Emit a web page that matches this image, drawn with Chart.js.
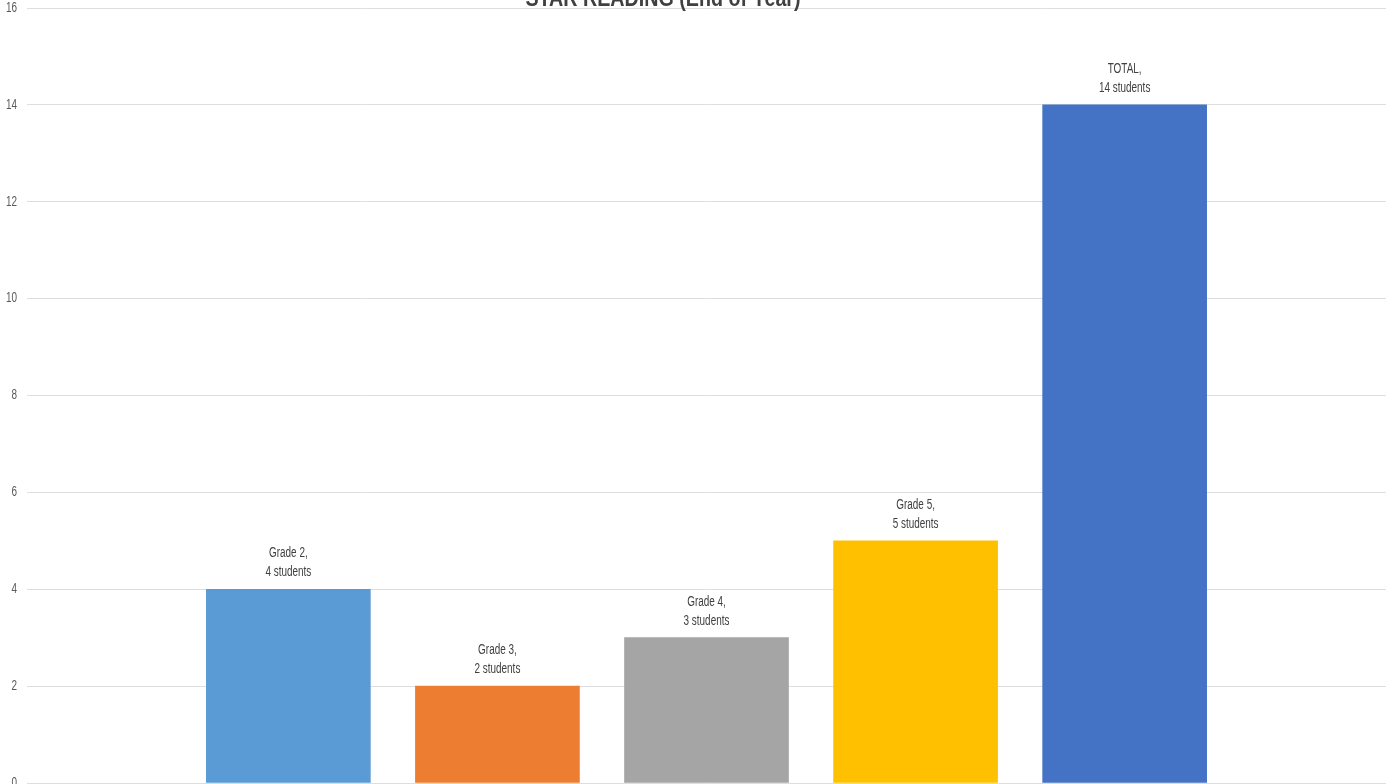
<!DOCTYPE html>
<html>
<head>
<meta charset="utf-8">
<script src="https://cdn.jsdelivr.net/npm/chart.js@4"></script>
<style>
  html, body { margin: 0; padding: 0; background: #fff; overflow: hidden; }
  #wrap { width: 1395px; height: 784px; position: relative; }
</style>
</head>
<body>
<div id="wrap"><canvas id="starChart"></canvas></div>
<script>
// chart values
const chartTitle = "STAR READING (End of Year)";
const grades = ["Grade 2", "Grade 3", "Grade 4", "Grade 5", "TOTAL"];
const students = [4, 2, 3, 5, 14];
const barColors = ["#5B9BD5", "#ED7D31", "#A5A5A5", "#FFC000", "#4472C4"];
const yTicks = [0, 2, 4, 6, 8, 10, 12, 14, 16];

const FONT = "'Liberation Sans', Arial, sans-serif";
const SQUEEZE = 0.71; // narrow look of the original font

// bars sit on a linear x scale, one unit per category
const points = students.map((v, i) => ({ x: i + 1, y: v }));

// draw text squeezed horizontally around (x, y)
function narrowText(ctx, text, x, y, sx){
  ctx.save();
  ctx.translate(x, y);
  ctx.scale(sx, 1);
  ctx.fillText(text, 0, 0);
  ctx.restore();
}

// tick labels, labels above each bar + the (clipped) title
const barLabels = {
  id: "barLabels",
  afterDatasetsDraw(chart){
    const ctx = chart.ctx;
    const xs = chart.scales.x, ys = chart.scales.y;
    ctx.save();

    // y tick labels
    ctx.fillStyle = "#595959";
    ctx.font = "14px " + FONT;
    ctx.textAlign = "right";
    ctx.textBaseline = "middle";
    ys.ticks.forEach(t => {
      narrowText(ctx, String(t.value), chart.chartArea.left - 10, ys.getPixelForValue(t.value), SQUEEZE);
    });

    // data labels
    ctx.fillStyle = "#404040";
    ctx.textAlign = "center";
    points.forEach((p, i) => {
      const px = xs.getPixelForValue(p.x);
      const py = ys.getPixelForValue(p.y);
      narrowText(ctx, grades[i] + ",", px, py - 36, SQUEEZE);
      narrowText(ctx, p.y + " students", px, py - 17, SQUEEZE);
    });

    // title, mostly cut off above the picture
    ctx.fillStyle = "#404040";
    ctx.font = "bold 24px " + FONT;
    ctx.textBaseline = "alphabetic";
    narrowText(ctx, chartTitle, 663, 6, 0.82);
    ctx.restore();
  }
};

new Chart(document.getElementById("starChart"), {
  type: "bar",
  data: {
    datasets: [{
      data: points,
      backgroundColor: barColors,
      borderWidth: 0,
      barThickness: 164
    }]
  },
  options: {
    responsive: true,
    maintainAspectRatio: false,
    animation: false,
    layout: { padding: { top: 8, right: 9, bottom: 1, left: 27 } },
    plugins: {
      legend: { display: false },
      tooltip: { enabled: false }
    },
    scales: {
      x: {
        type: "linear",
        offset: false,
        min: -0.25,
        max: 6.25,
        display: false
      },
      y: {
        min: 0,
        max: 16,
        afterBuildTicks: axis => { axis.ticks = yTicks.map(v => ({ value: v })); },
        grid: { color: "#DEDEDE", lineWidth: 1, drawTicks: false },
        border: { display: false },
        ticks: { display: false }
      }
    }
  },
  plugins: [barLabels]
});
</script>
</body>
</html>
